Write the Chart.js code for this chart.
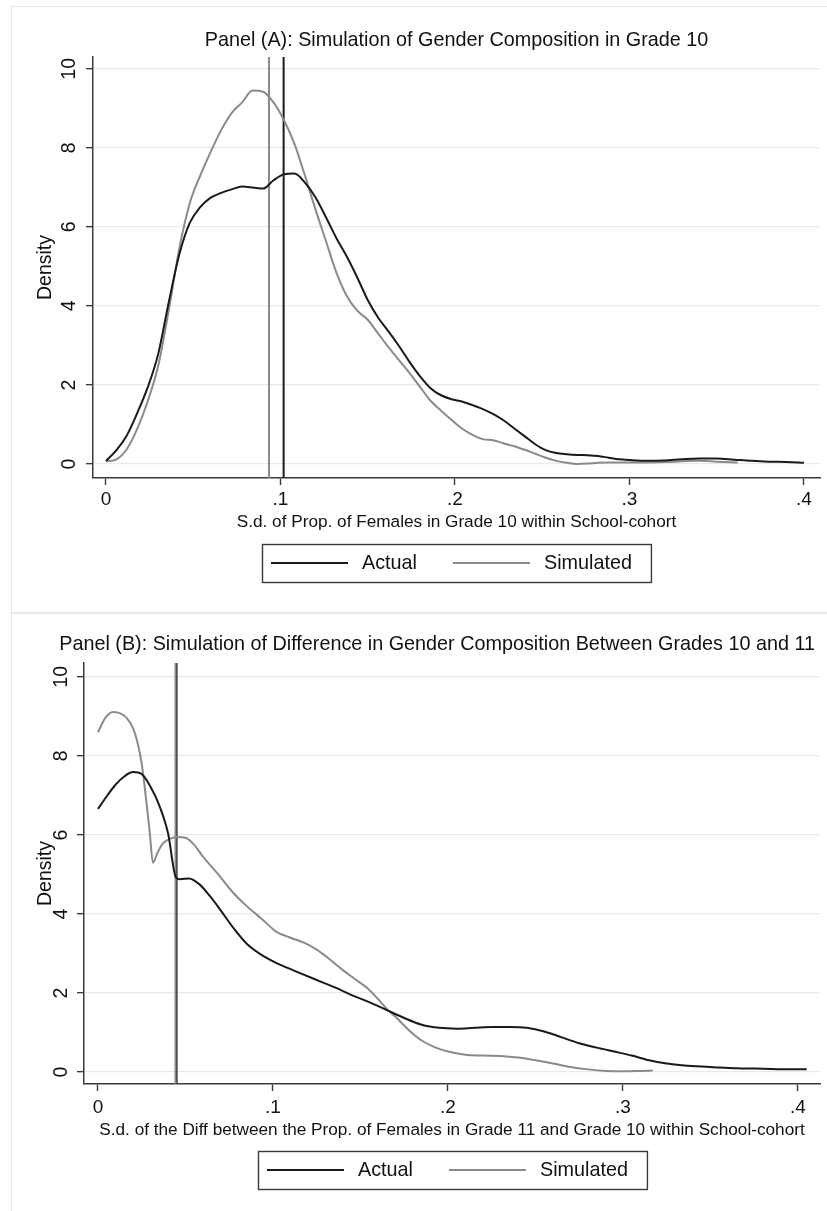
<!DOCTYPE html>
<html>
<head>
<meta charset="utf-8">
<script src="https://cdn.jsdelivr.net/npm/chart.js@4.4.1/dist/chart.umd.min.js"></script>
<style>
  html, body { margin: 0; padding: 0; background: #fff; }
  body { width: 827px; height: 1211px; position: relative; overflow: hidden; }
  .frame { position: absolute; border: 1px solid #e3e9ed; box-sizing: border-box; }
  canvas { position: absolute; left: 0; }
</style>
</head>
<body>
<div class="frame" style="left:11px; top:6px; width:830px; height:607px;"></div>
<div class="frame" style="left:11px; top:613px; width:830px; height:610px;"></div>
<canvas id="panelA" width="827" height="612" style="top:0;"></canvas>
<canvas id="panelB" width="827" height="599" style="top:612px;"></canvas>
<script>
// ---- data ----
const xTicks = [0, 0.1, 0.2, 0.3, 0.4];
const xTickLabels = ['0', '.1', '.2', '.3', '.4'];
const yTicks = [0, 2, 4, 6, 8, 10];

// Panel A: s.d. of prop. of females in grade 10
const xActualA = [0, .006, .012, .018, .024, .030, .036, .042, .048, .054, .060, .066, .072, .078, .084, .090, .096, .102, .108, .114, .120, .126, .132, .138, .144, .150, .156, .162, .168, .174, .180, .186, .192, .198, .204, .210, .216, .222, .228, .234, .240, .246, .252, .258, .264, .270, .276, .282, .288, .294, .300, .310, .320, .330, .340, .350, .360, .370, .380, .390, .400];
const actualA = [0.08, 0.35, 0.73, 1.3, 1.95, 2.8, 4.1, 5.3, 6.1, 6.5, 6.74, 6.86, 6.95, 7.02, 7.0, 6.97, 7.18, 7.33, 7.35, 7.12, 6.75, 6.25, 5.72, 5.25, 4.72, 4.15, 3.7, 3.35, 2.98, 2.58, 2.22, 1.92, 1.74, 1.64, 1.58, 1.49, 1.39, 1.26, 1.1, 0.9, 0.7, 0.5, 0.35, 0.28, 0.25, 0.23, 0.22, 0.2, 0.16, 0.12, 0.1, 0.08, 0.09, 0.12, 0.14, 0.14, 0.11, 0.08, 0.06, 0.05, 0.03];
const xSimA = [0, .006, .012, .018, .024, .030, .036, .042, .048, .054, .060, .066, .072, .078, .084, .090, .096, .102, .108, .114, .120, .126, .132, .138, .144, .150, .156, .162, .168, .174, .180, .186, .192, .198, .204, .210, .216, .222, .228, .234, .240, .246, .252, .258, .264, .270, .276, .282, .288, .294, .300, .310, .320, .330, .340, .350, .362];
const simA = [0.07, 0.12, 0.38, 0.9, 1.6, 2.5, 3.9, 5.45, 6.6, 7.3, 7.9, 8.45, 8.88, 9.15, 9.45, 9.42, 9.15, 8.7, 8.1, 7.3, 6.45, 5.65, 4.85, 4.25, 3.88, 3.65, 3.3, 2.95, 2.62, 2.3, 1.95, 1.6, 1.35, 1.12, 0.9, 0.74, 0.63, 0.6, 0.52, 0.45, 0.36, 0.26, 0.16, 0.08, 0.03, 0.0, 0.01, 0.03, 0.04, 0.04, 0.04, 0.04, 0.05, 0.07, 0.08, 0.06, 0.04];
const meanActualA = 0.1018;
const meanSimA = 0.0934;

// Panel B: s.d. of the diff between grade 11 and grade 10
const xActualB = [0, .005, .010, .015, .020, .025, .030, .035, .040, .0446, .047, .052, .058, .064, .070, .077, .085, .093, .102, .112, .125, .135, .145, .155, .165, .175, .185, .195, .205, .215, .225, .235, .245, .255, .265, .275, .285, .295, .305, .315, .325, .335, .345, .355, .365, .375, .385, .395, .405];
const actualB = [6.66, 6.98, 7.27, 7.48, 7.59, 7.54, 7.22, 6.75, 6.05, 4.92, 4.88, 4.9, 4.75, 4.45, 4.1, 3.67, 3.25, 2.98, 2.76, 2.57, 2.33, 2.15, 1.95, 1.77, 1.57, 1.37, 1.2, 1.12, 1.1, 1.12, 1.14, 1.14, 1.12, 1.03, 0.88, 0.73, 0.62, 0.52, 0.42, 0.3, 0.22, 0.17, 0.14, 0.12, 0.1, 0.09, 0.08, 0.07, 0.07];
const xSimB = [0, .004, .0086, .013, .0166, .020, .0225, .025, .0275, .0295, .0314, .034, .037, .041, .045, .050, .055, .060, .068, .077, .085, .093, .102, .110, .118, .125, .132, .140, .147, .154, .160, .165, .170, .178, .185, .192, .200, .210, .220, .230, .240, .250, .260, .270, .280, .290, .300, .310, .317];
const simB = [8.6, 8.95, 9.11, 9.07, 8.95, 8.7, 8.35, 7.8, 6.9, 6.1, 5.3, 5.55, 5.78, 5.9, 5.95, 5.93, 5.75, 5.45, 5.04, 4.55, 4.2, 3.9, 3.55, 3.4, 3.27, 3.1, 2.87, 2.58, 2.35, 2.12, 1.85, 1.6, 1.4, 1.05, 0.8, 0.64, 0.52, 0.44, 0.42, 0.41, 0.37, 0.3, 0.22, 0.13, 0.07, 0.03, 0.02, 0.03, 0.04];
const meanActualB = 0.0449;
const meanSimB = 0.0443;

const seriesLabels = ['Actual', 'Simulated'];
const titleA = 'Panel (A): Simulation of Gender Composition in Grade 10';
const titleB = 'Panel (B): Simulation of Difference in Gender Composition Between Grades 10 and 11';
const xTitleA = 'S.d. of Prop. of Females in Grade 10 within School-cohort';
const xTitleB = 'S.d. of the Diff between the Prop. of Females in Grade 11 and Grade 10 within School-cohort';

// ---- styling ----
const FONT = "'Liberation Sans', Arial, Helvetica, sans-serif";
const INK = '#111111';
const BLACK = '#1a1a1a';
const GREY = '#8a8a8a';
const AXIS = '#3a3a3a';
const GRID = '#e4eaee';
Chart.defaults.font.family = FONT;
Chart.defaults.color = INK;

const toPoints = (xs, ys) => xs.map((x, i) => ({ x: x, y: ys[i] }));

// title above the plot region and the boxed legend below the axis title
const stataDecor = {
  id: 'stataDecor',
  afterDraw(chart, args, opts) {
    const ctx = chart.ctx;
    const area = chart.chartArea;
    const cx = (area.left + area.right) / 2;
    ctx.save();
    ctx.fillStyle = INK;
    ctx.textBaseline = 'middle';

    ctx.font = '19.8px ' + FONT;
    const tw = ctx.measureText(opts.title).width;
    let tx = cx;
    if (tx + tw / 2 > chart.width - 12) tx = chart.width - 12 - tw / 2;
    ctx.textAlign = 'center';
    ctx.fillText(opts.title, tx, opts.titleY);

    // legend
    const items = chart.data.datasets.filter(d => d.label);
    ctx.font = '19.8px ' + FONT;
    const maxText = Math.max(...items.map(d => ctx.measureText(d.label).width));
    const padL = 9, padR = 19, keyLen = 77, keyGap = 14, colGap = 3;
    const colW = keyLen + keyGap + maxText;
    const w = padL + items.length * colW + (items.length - 1) * colGap + padR;
    const h = 38;
    const left = Math.round(cx - w / 2);
    const cy = opts.legendY;
    ctx.strokeStyle = AXIS;
    ctx.lineWidth = 1.4;
    ctx.strokeRect(left + 0.5, Math.round(cy - h / 2) + 0.5, w, h);
    ctx.textAlign = 'left';
    items.forEach((d, i) => {
      const x0 = left + padL + i * (colW + colGap);
      ctx.strokeStyle = d.borderColor;
      ctx.lineWidth = 2;
      ctx.beginPath();
      ctx.moveTo(x0, cy);
      ctx.lineTo(x0 + keyLen, cy);
      ctx.stroke();
      ctx.fillStyle = INK;
      ctx.fillText(d.label, x0 + keyLen + keyGap, cy + 1);
    });
    ctx.restore();
  }
};

function makePanel(canvasId, cfg) {
  const curve = (label, pts, color) => ({
    label: label, data: pts, borderColor: color, borderWidth: 2,
    pointRadius: 0, fill: false, cubicInterpolationMode: 'monotone'
  });
  const vline = (x, color) => ({
    data: [{ x: x, y: cfg.yMin }, { x: x, y: cfg.yMax }],
    borderColor: color, borderWidth: 2, pointRadius: 0, fill: false
  });

  return new Chart(document.getElementById(canvasId), {
    type: 'line',
    data: {
      datasets: [
        curve(seriesLabels[0], toPoints(cfg.xAct, cfg.act), BLACK),
        curve(seriesLabels[1], toPoints(cfg.xSim, cfg.sim), GREY),
        vline(cfg.meanSim, GREY),
        vline(cfg.meanAct, BLACK)
      ]
    },
    options: {
      responsive: false,
      animation: false,
      events: [],
      layout: { padding: { left: 0, right: 7, top: cfg.top, bottom: cfg.bottom } },
      plugins: {
        legend: { display: false },
        tooltip: { enabled: false },
        stataDecor: { title: cfg.title, titleY: cfg.titleY, legendY: cfg.legendY }
      },
      scales: {
        x: {
          type: 'linear',
          min: cfg.xMin, max: cfg.xMax,
          afterBuildTicks: s => { s.ticks = xTicks.map(v => ({ value: v })); },
          afterFit: s => { s.height = 60; },
          ticks: {
            autoSkip: false, maxRotation: 0, padding: cfg.xTickPad,
            font: { size: 19 }, color: INK,
            callback: v => xTickLabels[xTicks.indexOf(v)]
          },
          grid: { drawOnChartArea: false, tickLength: 7, tickColor: AXIS, tickWidth: 1.4 },
          border: { display: true, color: AXIS, width: 1.5 },
          title: { display: true, text: cfg.xTitle, font: { size: 17.2 }, color: INK, padding: { top: 0, bottom: cfg.xTitlePad } }
        },
        y: {
          type: 'linear',
          min: cfg.yMin, max: cfg.yMax,
          afterBuildTicks: s => { s.ticks = yTicks.map(v => ({ value: v })); },
          afterFit: s => { s.width = cfg.plotLeft; },
          ticks: {
            autoSkip: false, minRotation: 90, maxRotation: 90, crossAlign: 'center',
            padding: cfg.yTickPad, font: { size: 19.5 }, color: INK
          },
          grid: { color: GRID, lineWidth: 1.3, tickLength: 7, tickColor: AXIS, tickWidth: 1.4 },
          border: { display: true, color: AXIS, width: 1.5 },
          title: { display: true, text: 'Density', font: { size: 19.5 }, color: INK, padding: { top: 33.8, bottom: 0 } }
        }
      }
    },
    plugins: [stataDecor]
  });
}

makePanel('panelA', {
  xAct: xActualA, act: actualA, xSim: xSimA, sim: simA,
  meanAct: meanActualA, meanSim: meanSimA,
  xMin: -0.00745, xMax: 0.4092, yMin: -0.354, yMax: 10.30,
  top: 57, bottom: 74, plotLeft: 93,
  xTickPad: 3.6, xTitlePad: 5.2, yTickPad: 5.2,
  title: titleA, xTitle: xTitleA, titleY: 41, legendY: 563
});

makePanel('panelB', {
  xAct: xActualB, act: actualB, xSim: xSimB, sim: simB,
  meanAct: meanActualB, meanSim: meanSimB,
  xMin: -0.008, xMax: 0.4126, yMin: -0.30, yMax: 10.35,
  top: 51, bottom: 67, plotLeft: 84,
  xTickPad: 5.1, xTitlePad: 3.7, yTickPad: 4.2,
  title: titleB, xTitle: xTitleB, titleY: 33, legendY: 558
});
</script>
</body>
</html>
